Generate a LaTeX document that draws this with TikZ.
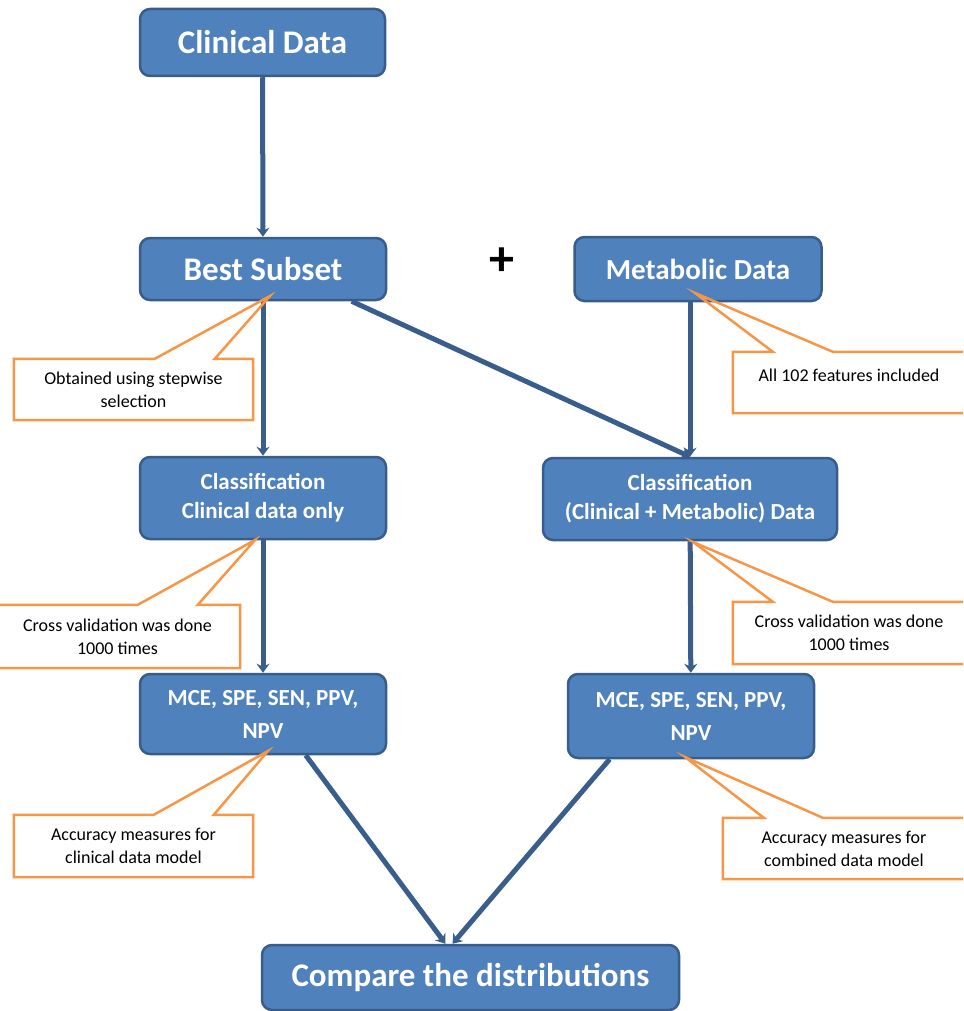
\documentclass[tikz,border=0pt]{standalone}
\usepackage{fontspec}
\setmainfont{Carlito}
\usepackage{tikz}
\usetikzlibrary{arrows.meta,positioning,calc}
\definecolor{boxfill}{RGB}{79,129,189}
\definecolor{boxline}{RGB}{56,93,138}
\definecolor{flowblue}{RGB}{58,94,140}
\definecolor{noteorange}{RGB}{247,150,70}
\tikzstyle{block}=[draw=boxline,fill=boxfill,rounded corners=10pt,line width=2.5pt,text=white,align=center,inner sep=0pt,font=\bfseries]
\tikzstyle{note}=[align=center,inner sep=0pt,font=\fontsize{18}{23}\selectfont]
\tikzstyle{outline}=[draw=noteorange,line width=2.5pt,line join=miter]
\tikzstyle{flow}=[draw=flowblue,line width=5pt,-{Stealth[length=9pt,width=13pt]}]

\begin{document}
\begin{tikzpicture}[x=1pt,y=-1pt]
\clip (0,0) rectangle (963,1011);
% boxes
\node [block,minimum width=245pt,minimum height=67pt,font=\bfseries\fontsize{33}{38}\selectfont] (clin) at (262.5,42.5) {Clinical Data};
\node [block,minimum width=246pt,minimum height=62pt,font=\bfseries\fontsize{33}{38}\selectfont] (best) at (263,269) {Best Subset};
\node [block,minimum width=247pt,minimum height=64pt,font=\bfseries\fontsize{29}{34}\selectfont] [right=186pt of best] (meta) {Metabolic Data};
\node [font=\bfseries\fontsize{50}{50}\selectfont] (plus) at (502,262) {+};
\node [block,minimum width=246pt,minimum height=82pt,font=\bfseries\fontsize{23}{29}\selectfont] (clsl) at (263,498) {Classification\\Clinical data only};
\node [block,minimum width=294pt,minimum height=82pt,font=\bfseries\fontsize{23}{29}\selectfont] (clsr) at (690,499) {Classification\\(Clinical + Metabolic) Data};
\node [block,minimum width=246pt,minimum height=80pt,font=\bfseries\fontsize{23}{33}\selectfont] (accl) at (263,714) {MCE, SPE, SEN, PPV,\\NPV};
\node [block,minimum width=246pt,minimum height=84pt,font=\bfseries\fontsize{23}{33}\selectfont] (accr) at (691,716) {MCE, SPE, SEN, PPV,\\NPV};
\node [block,minimum width=417pt,minimum height=65pt,font=\bfseries\fontsize{33}{38}\selectfont] (comp) at (470.5,977.5) {Compare the distributions};

% connectors
\draw [flow] (clin) -- (best);
\draw [flow] (best) -- (clsl);
\draw [flow] (best.-20) -- (clsr.north);
\draw [flow] (meta.south -| clsr) -- (clsr.north);
\draw [flow] (clsl) -- (accl);
\draw [flow] (clsr) -- (accr);
\draw [flow] (accl.-44) -- ([xshift=-25pt]comp.north);
\draw [flow] (accr.-152) -- ([xshift=-18pt]comp.north);

% callouts
\node [note,minimum width=239pt,minimum height=61pt] (sel) at (133.5,389.5) {Obtained using stepwise\\selection};
\coordinate (selTip) at (270,296);
\draw [outline] (sel.north west) -- ([xshift=141pt]sel.north west) -- (selTip) -- ([xshift=201pt]sel.north west) -- (sel.north east) -- (sel.south east) -- (sel.south west) -- cycle;

\node [note,minimum width=232pt,minimum height=61pt,text depth=15pt] (feat) at (849,382.5) {All 102 features included};
\coordinate (featTip) at (695,293);
\draw [outline] (feat.north west) -- ([xshift=40pt]feat.north west) -- (featTip) -- ([xshift=100pt]feat.north west) -- (feat.north east) -- (feat.south east) -- (feat.south west) -- cycle;

\node [note,minimum width=245pt,minimum height=63pt] (cvl) at (117.5,636.5) {Cross validation was done\\1000 times};
\coordinate (cvlTip) at (255,540);
\draw [outline] (cvl.north west) -- ([xshift=143pt]cvl.north west) -- (cvlTip) -- ([xshift=203pt]cvl.north west) -- (cvl.north east) -- (cvl.south east) -- (cvl.south west) -- cycle;

\node [note,minimum width=232pt,minimum height=62pt] (cvr) at (849,633) {Cross validation was done\\1000 times};
\coordinate (cvrTip) at (693,542);
\draw [outline] (cvr.north west) -- ([xshift=40pt]cvr.north west) -- (cvrTip) -- ([xshift=100pt]cvr.north west) -- (cvr.north east) -- (cvr.south east) -- (cvr.south west) -- cycle;

\node [note,minimum width=239pt,minimum height=62pt] (accnl) at (133.5,846) {Accuracy measures for\\clinical data model};
\coordinate (accnlTip) at (268,751);
\draw [outline] (accnl.north west) -- ([xshift=140pt]accnl.north west) -- (accnlTip) -- ([xshift=200pt]accnl.north west) -- (accnl.north east) -- (accnl.south east) -- (accnl.south west) -- cycle;

\node [note,minimum width=242pt,minimum height=61pt] (accnr) at (844,848.5) {Accuracy measures for\\combined data model};
\coordinate (accnrTip) at (685,757);
\draw [outline] (accnr.north west) -- ([xshift=41pt]accnr.north west) -- (accnrTip) -- ([xshift=100pt]accnr.north west) -- (accnr.north east) -- (accnr.south east) -- (accnr.south west) -- cycle;
\end{tikzpicture}
\end{document}
